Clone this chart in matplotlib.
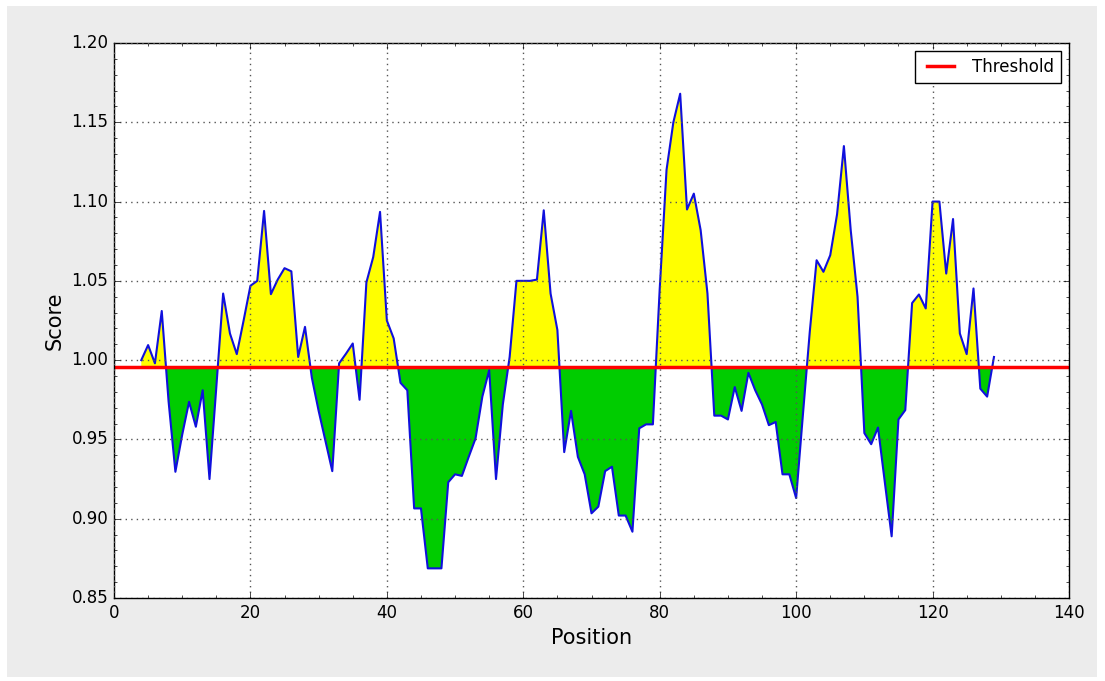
#!/usr/bin/python
import numpy as np
from matplotlib import pyplot as plt
from matplotlib.patches import Rectangle

#Parameters
out_file = 'out.png'
threshold = 0.9957

positions = list(range(4, 130))
scores = [1.000, 1.0095, 0.998, 1.031, 0.974, 0.9296, 0.953, 0.9737, 0.958, 0.981,
          0.925, 0.983, 1.042, 1.0168, 1.0038, 1.025, 1.0469, 1.050, 1.0941, 1.0416,
          1.0508, 1.058, 1.056, 1.002, 1.021, 0.989, 0.968, 0.949, 0.930, 0.998,
          1.004, 1.0105, 0.975, 1.049, 1.065, 1.0935, 1.025, 1.0137, 0.9857, 0.981,
          0.9065, 0.9065, 0.8687, 0.8687, 0.8687, 0.923, 0.928, 0.927, 0.939, 0.9506,
          0.977, 0.9937, 0.925, 0.972, 1.002, 1.050, 1.050, 1.050, 1.0508, 1.0945,
          1.042, 1.019, 0.942, 0.968, 0.939, 0.928, 0.9034, 0.9076, 0.930, 0.9328,
          0.902, 0.902, 0.8918, 0.957, 0.9595, 0.9595, 1.045, 1.12, 1.15, 1.168,
          1.095, 1.105, 1.082, 1.042, 0.965, 0.965, 0.9626, 0.983, 0.968, 0.992,
          0.981, 0.972, 0.959, 0.961, 0.928, 0.928, 0.913, 0.966, 1.018, 1.063,
          1.0557, 1.0662, 1.092, 1.135, 1.082, 1.04, 0.954, 0.947, 0.9575, 0.923,
          0.8889, 0.9626, 0.9685, 1.036, 1.0414, 1.0326, 1.100, 1.100, 1.0546, 1.089,
          1.0168, 1.0038, 1.0452, 0.982, 0.977, 1.002]

#Main
plt.style.use('classic')
fig = plt.figure(figsize=(11.05, 6.81), dpi=100, facecolor='white')
fig.patches.append(Rectangle((7/1105., 4/681.), 1090/1105., 671/681.,
                             transform=fig.transFigure, facecolor='#ececec',
                             edgecolor='none', zorder=-10))
ax = fig.add_axes([114/1105., 83/681., 955/1105., 555/681.])

x = np.array(positions)
y = np.array(scores)
ax.fill_between(x, y, threshold, where=y >= threshold, interpolate=True,
                facecolor='yellow', edgecolor='none')
ax.fill_between(x, y, threshold, where=y <= threshold, interpolate=True,
                facecolor='#00cc00', edgecolor='none')
ax.plot(x, y, color='#1010dd', linewidth=1.5)
ax.axhline(threshold, color='red', linewidth=2.5, label='Threshold')

ax.set_xlim(0, 140)
ax.set_ylim(0.85, 1.20)
ax.set_yticks(np.arange(0.85, 1.201, 0.05))
ax.minorticks_on()
ax.grid(True, which='major', color='#555555', linestyle=':', linewidth=1)
ax.tick_params(labelsize=12)

ax.set_xlabel('Position', fontsize=15)
ax.set_ylabel('Score', fontsize=15)
ax.legend(loc='upper right', fontsize=12, handlelength=2.2)

plt.savefig(out_file, dpi=100, facecolor=fig.get_facecolor())
